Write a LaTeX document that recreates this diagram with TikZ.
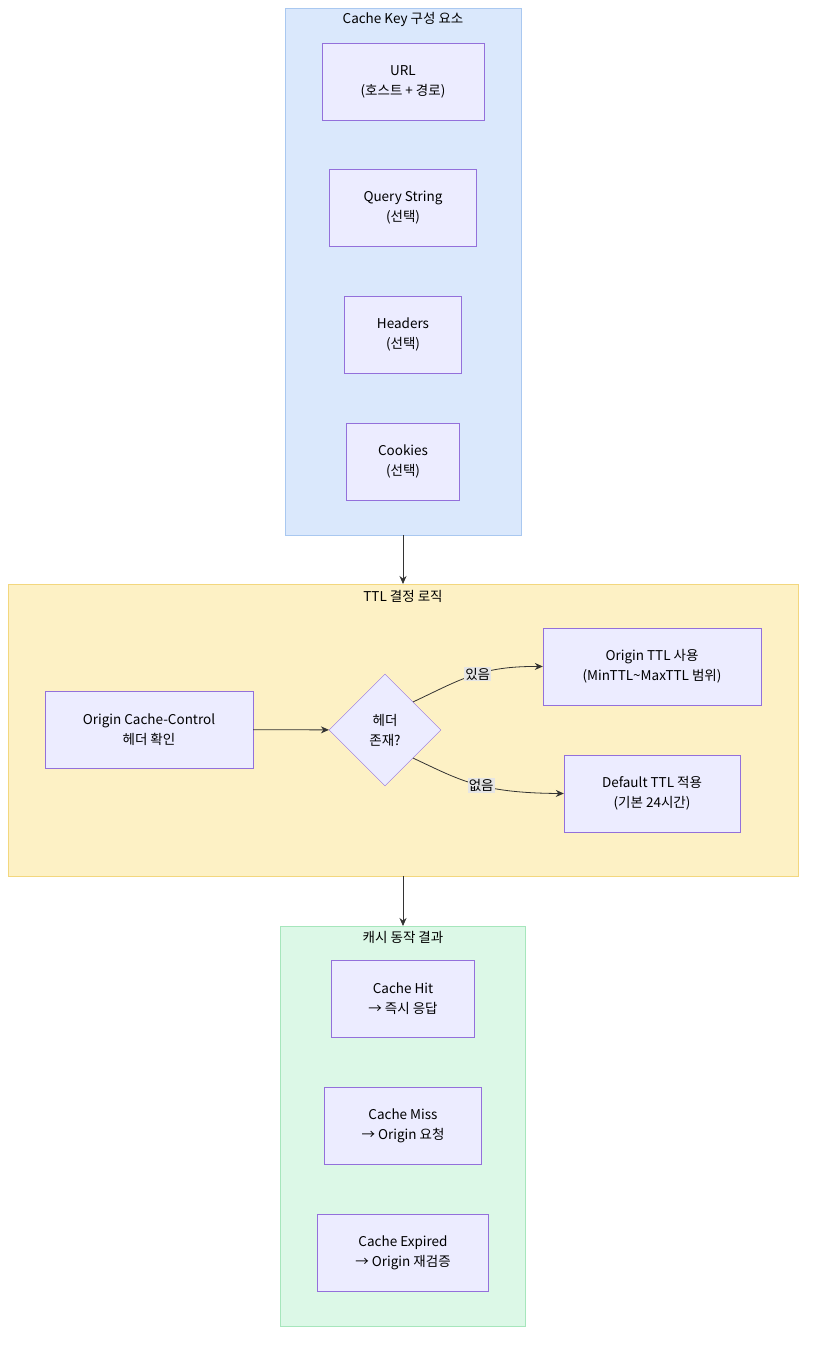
\documentclass[tikz,border=0pt]{standalone}
\usepackage{fontspec}
\setmainfont{Noto Sans CJK KR}
\usetikzlibrary{shapes.geometric,arrows.meta}
\definecolor{nodefill}{HTML}{ECECFF}
\definecolor{nodeline}{HTML}{9370DB}
\definecolor{keyfill}{HTML}{DAE8FC}
\definecolor{keyline}{HTML}{A9C8F0}
\definecolor{ttlfill}{HTML}{FDF1C5}
\definecolor{ttlline}{HTML}{F3D77E}
\definecolor{resfill}{HTML}{DCF8E7}
\definecolor{resline}{HTML}{A6E6BC}
\definecolor{edgecol}{HTML}{333333}
\tikzset{
  box/.style={draw=nodeline,fill=nodefill,align=center,font=\fontsize{13.5}{20}\selectfont},
  group/.style={line width=0.8pt},
  title/.style={font=\fontsize{13.5}{16}\selectfont},
  flow/.style={draw=edgecol,line width=0.8pt,-{Stealth[length=8pt,width=7pt]}},
  tag/.style={fill=black!10,inner sep=1pt,font=\fontsize{13.5}{16}\selectfont}
}
\begin{document}
\begin{tikzpicture}[x=1pt,y=-1pt]
\useasboundingbox (0,0) rectangle (814,1346);

% Cache Key
\draw[group,draw=keyline,fill=keyfill] (285,8) rectangle (521,535);
\node[title] (keytitle) at (403,19) {Cache Key 구성 요소};
\node[box,minimum width=162,minimum height=77] (url) at (403,81.5) {URL\\(호스트 + 경로)};
\node[box,minimum width=147,minimum height=77] (query) at (403,208) {Query String\\(선택)};
\node[box,minimum width=117,minimum height=77] (headers) at (403,334.5) {Headers\\(선택)};
\node[box,minimum width=113,minimum height=77] (cookies) at (403,461.5) {Cookies\\(선택)};
\coordinate (keybottom) at (403,535);

% TTL
\draw[group,draw=ttlline,fill=ttlfill] (8,584) rectangle (798,876);
\node[title] (ttltitle) at (403,596) {TTL 결정 로직};
\coordinate (ttltop) at (403,584);
\coordinate (ttlbottom) at (403,876);
\node[box,minimum width=208,minimum height=77] (check) at (149,729.5) {Origin Cache-Control\\헤더 확인};
\node[box,diamond,minimum width=112,minimum height=112,inner sep=0] (exists) at (385,730) {헤더\\존재?};
\node[box,minimum width=218,minimum height=77] (originttl) at (652,666.5) {Origin TTL 사용\\(MinTTL\textasciitilde MaxTTL 범위)};
\node[box,minimum width=176,minimum height=77] (defttl) at (652,793.5) {Default TTL 적용\\(기본 24시간)};

% 결과
\draw[group,draw=resline,fill=resfill] (280,926) rectangle (525,1326);
\node[title] (restitle) at (403,937) {캐시 동작 결과};
\coordinate (restop) at (403,926);
\node[box,minimum width=143,minimum height=77] (hit) at (403,998.5) {Cache Hit\\→ 즉시 응답};
\node[box,minimum width=157,minimum height=77] (miss) at (403,1125.5) {Cache Miss\\→ Origin 요청};
\node[box,minimum width=171,minimum height=77] (expired) at (403,1252.5) {Cache Expired\\→ Origin 재검증};

\draw[flow] (keybottom) -- (ttltop);
\draw[flow] (ttlbottom) -- (restop);
\draw[flow] (check) -- (exists);
\draw[flow] (exists.north east) .. controls (460,680) and (480,666) .. node[tag,pos=0.55] {있음} (originttl.west);
\draw[flow] (exists.south east) .. controls (460,780) and (480,793) .. node[tag,pos=0.55] {없음} (defttl.west);
\end{tikzpicture}
\end{document}
